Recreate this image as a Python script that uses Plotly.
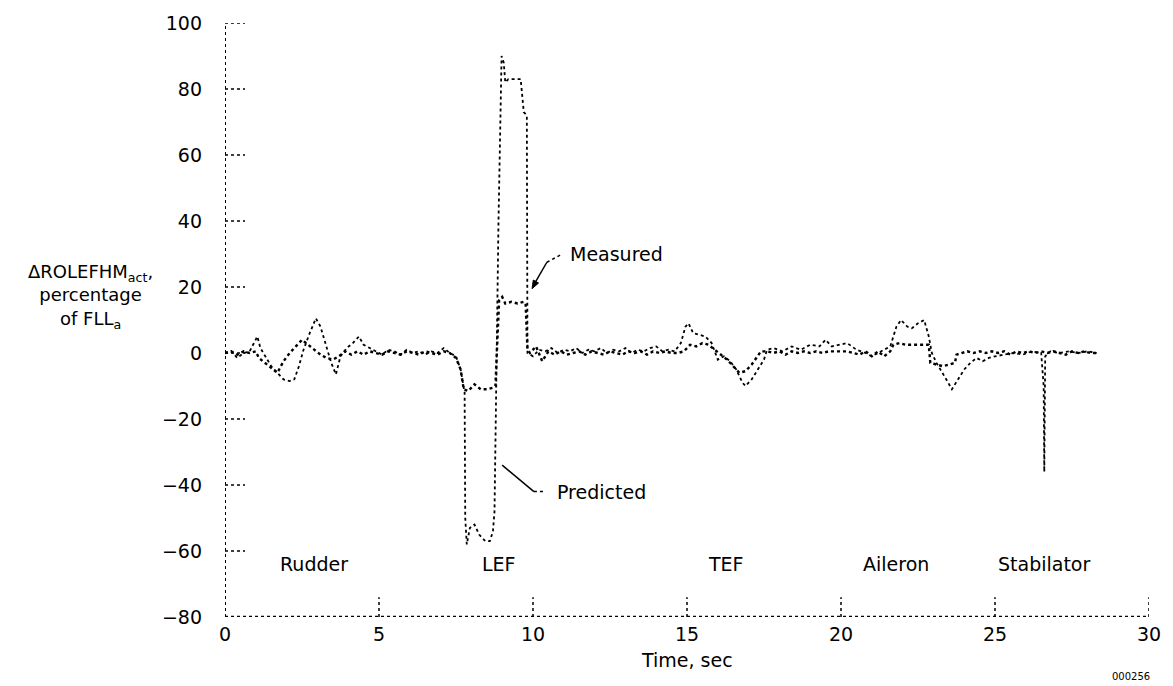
import plotly.graph_objects as go

# Measured response (time in s, value in percent of FLL_a)
t_measured = [
    0.0, 0.2, 0.4, 0.6, 0.8, 1.0, 1.1, 1.3, 1.5, 1.7,
    1.9, 2.1, 2.3, 2.5, 2.7, 2.9, 3.1, 3.3, 3.5, 3.7,
    3.9, 4.1, 4.3, 4.5, 4.7, 4.9, 5.1, 5.3, 5.5, 5.7,
    5.9, 6.1, 6.3, 6.5, 6.7, 6.9, 7.1, 7.3, 7.5, 7.65,
    7.75, 7.9, 8.1, 8.3, 8.5, 8.7, 8.78, 8.85, 8.9, 9.0,
    9.1, 9.3, 9.5, 9.7, 9.76, 9.82, 9.9, 10.1, 10.3, 10.5,
    10.7, 10.9, 11.1, 11.3, 11.5, 11.7, 11.9, 12.1, 12.3, 12.5,
    12.7, 12.9, 13.1, 13.3, 13.5, 13.7, 13.9, 14.1, 14.3, 14.5,
    14.7, 14.9, 15.1, 15.3, 15.5, 15.7, 15.9, 16.1, 16.3, 16.5,
    16.7, 16.9, 17.1, 17.25, 17.4, 17.6, 17.8, 18.0, 18.2, 18.4,
    18.6, 18.8, 19.0, 19.2, 19.4, 19.6, 19.8, 20.0, 20.2, 20.4,
    20.6, 20.8, 21.0, 21.2, 21.4, 21.6, 21.7, 21.9, 22.1, 22.3,
    22.5, 22.7, 22.85, 22.9, 23.1, 23.3, 23.5, 23.7, 23.75, 23.9,
    24.1, 24.3, 24.5, 24.7, 24.9, 25.1, 25.3, 25.5, 25.7, 25.9,
    26.1, 26.3, 26.5, 26.7, 26.9, 27.1, 27.3, 27.5, 27.7, 27.9,
    28.1, 28.3,
]
measured = [
    0.0, 0.5, -0.5, 0.5, 0.0, 0.5, -1.5, -3.0, -4.5, -6.0,
    -2.5, 0.0, 2.0, 4.0, 2.5, 1.0, -0.5, -1.5, -2.0, -1.0,
    0.5, -0.5, 0.5, -0.5, 0.5, 0.0, -0.5, 0.5, 0.0, -0.5,
    0.5, 0.0, -0.5, 0.5, 0.0, -0.5, 0.5, 0.0, -1.5, -5.0,
    -11.0, -11.5, -9.5, -11.0, -11.0, -10.5, -10.0, 8.0, 16.0, 17.0,
    15.0, 15.5, 15.0, 15.5, 15.0, 1.0, 0.0, 2.0, -2.5, 0.5,
    -0.5, 0.5, -0.5, 0.0, 0.5, -0.5, 0.5, 0.0, -0.5, 0.5,
    0.0, -0.5, 0.5, 0.0, 0.5, -0.5, 0.5, 0.0, 0.5, 0.0,
    0.0, 0.5, 2.5, 2.0, 3.0, 2.5, 1.0, -0.5, -2.0, -4.0,
    -6.0, -5.5, -3.5, -1.5, 0.5, 0.5, 0.0, 0.5, -0.5, 0.5,
    0.0, 0.5, 0.0, 0.5, 0.0, 0.5, 0.5, 0.5, 0.5, 0.0,
    -0.5, 0.5, -1.0, 0.5, -1.0, 0.5, 2.5, 3.0, 2.5, 2.5,
    2.5, 2.5, 2.5, -3.0, -3.5, -4.0, -3.5, -3.0, -0.5, 0.0,
    0.5, 0.0, 0.5, 0.0, 0.5, 0.0, 0.5, -0.5, 0.5, 0.0,
    0.5, 0.0, 0.5, 0.0, 0.5, 0.0, -0.5, 0.5, 0.0, 0.5,
    0.0, 0.0,
]

# Predicted response
t_predicted = [
    0.0, 0.2, 0.4, 0.6, 0.8, 0.95, 1.05, 1.15, 1.3, 1.5,
    1.7, 1.9, 2.1, 2.25, 2.4, 2.55, 2.75, 2.95, 3.1, 3.25,
    3.45, 3.6, 3.75, 3.95, 4.15, 4.35, 4.5, 4.7, 4.9, 5.1,
    5.3, 5.5, 5.7, 5.9, 6.1, 6.3, 6.5, 6.7, 6.9, 7.1,
    7.3, 7.5, 7.65, 7.78, 7.8, 7.85, 7.95, 8.1, 8.25, 8.45,
    8.6, 8.7, 8.75, 8.8, 8.85, 8.88, 8.92, 8.95, 8.98, 9.05,
    9.1, 9.2, 9.4, 9.6, 9.7, 9.8, 9.82, 10.0, 10.2, 10.4,
    10.6, 10.8, 11.0, 11.2, 11.4, 11.6, 11.8, 12.0, 12.2, 12.4,
    12.6, 12.8, 13.0, 13.2, 13.4, 13.6, 13.8, 14.0, 14.2, 14.4,
    14.6, 14.8, 14.95, 15.05, 15.2, 15.4, 15.6, 15.8, 16.0, 16.2,
    16.4, 16.6, 16.8, 16.9, 17.1, 17.3, 17.5, 17.6, 17.8, 18.1,
    18.4, 18.7, 19.0, 19.3, 19.5, 19.7, 20.0, 20.2, 20.5, 20.8,
    21.0, 21.3, 21.6, 21.8, 21.95, 22.15, 22.3, 22.5, 22.7, 22.85,
    22.95, 23.1, 23.3, 23.45, 23.6, 23.8, 24.0, 24.2, 24.4, 24.6,
    24.8, 25.0, 25.3, 25.6, 25.9, 26.2, 26.5, 26.58, 26.6, 26.63,
    26.8, 27.1, 27.4, 27.7, 28.0, 28.3,
]
predicted = [
    0.0, 0.5, -1.5, 0.0, 0.5, 3.0, 5.0, 1.5, -1.0, -4.0,
    -6.0, -8.0, -8.5, -8.0, -4.0, 1.0, 6.0, 10.5, 8.0, 3.0,
    -3.0, -6.5, -1.0, 1.5, 3.0, 5.0, 2.5, 1.5, 0.5, -0.5,
    1.0, 0.5, -0.5, 1.0, 0.0, 0.5, -0.5, 0.5, 0.0, 1.5,
    0.0, -1.0, -5.0, -12.0, -50.0, -58.0, -53.0, -52.0, -55.0, -57.0,
    -57.0, -54.0, -48.0, -10.0, 20.0, 40.0, 60.0, 80.0, 90.0, 88.0,
    82.0, 83.0, 83.0, 83.0, 73.0, 72.0, 0.0, -1.0, 1.0, 0.5,
    1.5, 0.0, 1.0, 0.5, 1.5, 0.0, 1.0, 0.5, 1.5, 0.0,
    1.0, 0.5, 1.5, 0.0, 1.0, 0.5, 1.5, 2.0, 0.5, 1.0,
    0.5, 3.0, 8.0, 9.0, 6.0, 5.5, 5.0, 3.0, -2.0, -1.0,
    -2.5, -5.0, -9.0, -10.0, -8.0, -5.0, -2.0, 1.0, 1.5, 0.5,
    2.0, 1.0, 2.5, 2.0, 4.0, 2.0, 2.5, 3.0, 1.0, 0.0,
    -1.0, 0.5, 2.0, 8.0, 10.0, 8.0, 7.5, 9.0, 10.0, 5.0,
    0.0, -3.0, -6.0, -8.5, -11.0, -8.0, -5.0, -3.0, -1.5, -2.5,
    -1.5, -1.0, -0.5, 0.0, -0.5, 0.5, 0.0, -10.0, -36.0, -1.0,
    0.5, 0.0, 0.5, 0.0, 0.5, 0.0,
]

# Control surfaces excited in sequence, and the time each label is centred on
surfaces = ["Rudder", "LEF", "TEF", "Aileron", "Stabilator"]
surface_times = [2.9, 8.9, 16.25, 21.8, 26.6]

x_ticks = [0, 5, 10, 15, 20, 25, 30]
y_ticks = [100, 80, 60, 40, 20, 0, -20, -40, -60, -80]

FONT = "DejaVu Sans"
INK = "black"

fig = go.Figure()
fig.add_trace(go.Scatter(
    x=t_predicted, y=predicted, mode="lines", name="Predicted",
    line=dict(color=INK, width=1.8, dash="dot"),
))
fig.add_trace(go.Scatter(
    x=t_measured, y=measured, mode="lines", name="Measured",
    line=dict(color=INK, width=2.4, dash="dot"),
))


def seg(x0, y0, x1, y1, width=1.5, dash="dot"):
    return dict(type="line", xref="x", yref="y", x0=x0, x1=x1, y0=y0, y1=y1,
                line=dict(color=INK, width=width, dash=dash))


shapes = []
# dotted frame: left spine and bottom spine
shapes.append(seg(0, -80, 0, 100, width=2))
shapes.append(seg(0, -80, 30, -80, width=2.5))
# inward ticks
for yv in y_ticks:
    shapes.append(seg(0, yv, 0.65, yv))
for xv in x_ticks[1:]:
    shapes.append(seg(xv, -80, xv, -74))

# leader for "Measured": solid stem, small arrowhead, dotted tail
shapes.append(seg(10.05, 21.0, 10.45, 27.5, dash="solid"))
shapes.append(seg(10.45, 27.5, 10.95, 30))
shapes.append(dict(type="path", xref="x", yref="y",
                   path="M 9.97 19.5 L 10.18 21.2 L 10.01 22.1 Z",
                   fillcolor=INK, line=dict(color=INK, width=1)))
# leader for "Predicted": solid stem, dotted tail
shapes.append(seg(9.0, -34, 10.03, -42, dash="solid"))
shapes.append(seg(10.03, -42, 10.4, -42))

annotations = []
annotations.append(dict(x=11.15, y=30, xref="x", yref="y", text="Measured",
                        showarrow=False, xanchor="left", yanchor="middle",
                        font=dict(family=FONT, size=19, color=INK)))
annotations.append(dict(x=10.72, y=-42, xref="x", yref="y", text="Predicted",
                        showarrow=False, xanchor="left", yanchor="middle",
                        font=dict(family=FONT, size=19, color=INK)))
for name, tc in zip(surfaces, surface_times):
    annotations.append(dict(x=tc, y=-64, xref="x", yref="y", text=name,
                            showarrow=False, xanchor="center", yanchor="middle",
                            font=dict(family=FONT, size=19, color=INK)))
# vertical axis title
annotations.append(dict(
    x=-0.146, y=17, xref="paper", yref="y",
    text="\u0394ROLEFHM<sub>act</sub>,<br>percentage<br>of FLL<sub>a</sub>",
    showarrow=False, xanchor="center", yanchor="middle", align="center",
    font=dict(family=FONT, size=18, color=INK),
))
# horizontal axis title
annotations.append(dict(x=15, y=-0.073, xref="x", yref="paper", text="Time, sec",
                        showarrow=False, xanchor="center", yanchor="middle",
                        font=dict(family=FONT, size=19, color=INK)))
# figure number
annotations.append(dict(x=29.4, y=-0.1, xref="x", yref="paper", text="000256",
                        showarrow=False, xanchor="center", yanchor="middle",
                        font=dict(family=FONT, size=10, color=INK)))

fig.update_layout(
    width=1173, height=686,
    margin=dict(l=225, r=15, t=16, b=69),
    paper_bgcolor="white", plot_bgcolor="white",
    showlegend=False,
    shapes=shapes, annotations=annotations,
    font=dict(family=FONT, size=19, color=INK),
)
fig.update_xaxes(
    range=[0, 30], tickvals=x_ticks, ticktext=[str(v) for v in x_ticks],
    showgrid=False, zeroline=False, showline=False, ticks="",
    ticklabelstandoff=4, tickfont=dict(family=FONT, size=19, color=INK),
)
fig.update_yaxes(
    range=[-80, 100], tickvals=y_ticks,
    ticktext=[f"{v}".replace("-", "\u2212") for v in y_ticks],
    showgrid=False, zeroline=False, showline=False, ticks="",
    ticklabelstandoff=22, tickfont=dict(family=FONT, size=19, color=INK),
)

fig.write_html("out.html")
